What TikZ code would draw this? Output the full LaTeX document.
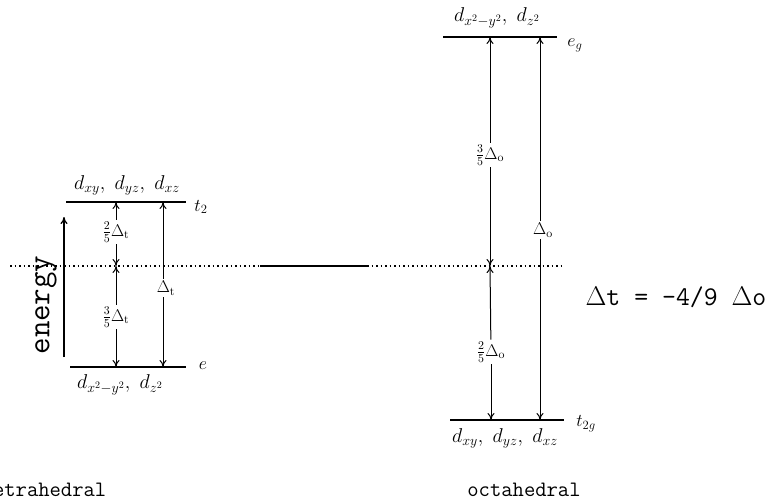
\RequirePackage{fix-cm}
\documentclass[tikz,border=0pt]{standalone}
\usepackage{amssymb,amsmath}
\usetikzlibrary{arrows}
\usetikzlibrary{arrows.meta}
\usetikzlibrary{calc}

\begin{document}
\begin{tikzpicture}[x=1pt,y=-1pt,
  level/.style={line width=1.6pt},
  gap/.style={-{To[length=7pt,width=7pt]}, line width=1pt},
  orb/.style={font=\fontsize{20}{22}\selectfont, inner sep=1pt},
  sym/.style={font=\fontsize{18}{20}\selectfont, inner sep=1pt},
  split/.style={font=\fontsize{17}{19}\selectfont, inner sep=2pt},
  word/.style={font=\fontsize{22}{24}\selectfont\ttfamily},
  bary/.style={line width=1.4pt, dash pattern=on 1.5pt off 3pt}]
\useasboundingbox (0,0) rectangle (774,501);

% Barycentre line
\coordinate (bL) at (10,266);
\coordinate (bM1) at (260,266);
\coordinate (bM2) at (367,266);
\coordinate (bR) at (563,266);
\draw[bary] (bL) -- (bM1);
\draw[line width=1.1pt] (bM1) -- (bM2);
\draw[bary] (bM2) -- (bR);

% Tetrahedral levels
\coordinate (t2a) at (66,202);
\coordinate (t2b) at (186,202);
\coordinate (ea) at (70,367);
\coordinate (eb) at (186,367);
\draw[level] (t2a) -- (t2b);
\draw[level] (ea) -- (eb);
\node[orb] (t2orb) at (127,185) {$d_{xy},\ d_{yz},\ d_{xz}$};
\node[orb] (eorb) at (120,385) {$d_{x^2-y^2},\ d_{z^2}$};
\node[sym] (t2name) at (201,207) {$t_2$};
\node[sym] (ename) at (203,366) {$e$};

% Tetrahedral splitting (node)
\node[split] (tup) at (116,232) {$\tfrac{2}{5}\Delta_{\mathrm{t}}$};
\node[split] (tdown) at (116,317) {$\tfrac{3}{5}\Delta_{\mathrm{t}}$};
\node[split] (tall) at (166,288) {$\Delta_{\mathrm{t}}$};
\coordinate (tupT) at (116,202);
\coordinate (tupB) at (116,266);
\coordinate (tdnB) at (116,367);
\coordinate (tallT) at (163,202);
\coordinate (tallB) at (163,367);
% Arrows from labels to levels
\draw[gap] (tup) -- (tupT);
\draw[gap] (tup) -- (tupB);
\draw[gap] (tdown) -- (tupB);
\draw[gap] (tdown) -- (tdnB);
\draw[gap] (tall.north west -| tallT) -- (tallT);
\draw[gap] (tall.south west -| tallB) -- (tallB);

% Energy axis
\coordinate (enB) at (64,357);
\coordinate (enT) at (64,217);
\draw[gap, line width=1.3pt] (enB) -- (enT);
\node[word, font=\fontsize{32}{34}\selectfont\ttfamily, rotate=90] (energy) at (46,305) {energy};

% Octahedral levels
\coordinate (ega) at (443,37);
\coordinate (egb) at (557,37);
\coordinate (tga) at (450,420);
\coordinate (tgb) at (564,420);
\draw[level] (ega) -- (egb);
\draw[level] (tga) -- (tgb);
\node[orb] (egorb) at (497,18) {$d_{x^2-y^2},\ d_{z^2}$};
\node[orb] (tgorb) at (505,438) {$d_{xy},\ d_{yz},\ d_{xz}$};
\node[sym] (egname) at (575,45) {$e_g$};
\node[sym] (tgname) at (586,424) {$t_{2g}$};

% Octahedral splitting (node)
\node[split] (oup) at (490,155) {$\tfrac{3}{5}\Delta_{\mathrm{o}}$};
\node[split] (odown) at (491,352) {$\tfrac{2}{5}\Delta_{\mathrm{o}}$};
\node[split] (oall) at (543,230) {$\Delta_{\mathrm{o}}$};
\coordinate (oupT) at (490,37);
\coordinate (oupB) at (490,266);
\coordinate (odnB) at (491,420);
\coordinate (oallT) at (540,37);
\coordinate (oallB) at (540,420);
% Arrows from labels to levels
\draw[gap] (oup) -- (oupT);
\draw[gap] (oup) -- (oupB);
\draw[gap] (odown) -- (oupB);
\draw[gap] (odown) -- (odnB);
\draw[gap] (oall.north west -| oallT) -- (oallT);
\draw[gap] (oall.south west -| oallB) -- (oallB);

% Relation and names
\node[word, font=\fontsize{27}{30}\selectfont\ttfamily] (rel) at (676,297) {$\Delta$t = -4/9 $\Delta$o};
\node[word] (tetra) at (44,490) {tetrahedral};
\node[word] (octa) at (524,490) {octahedral};
\end{tikzpicture}
\end{document}
